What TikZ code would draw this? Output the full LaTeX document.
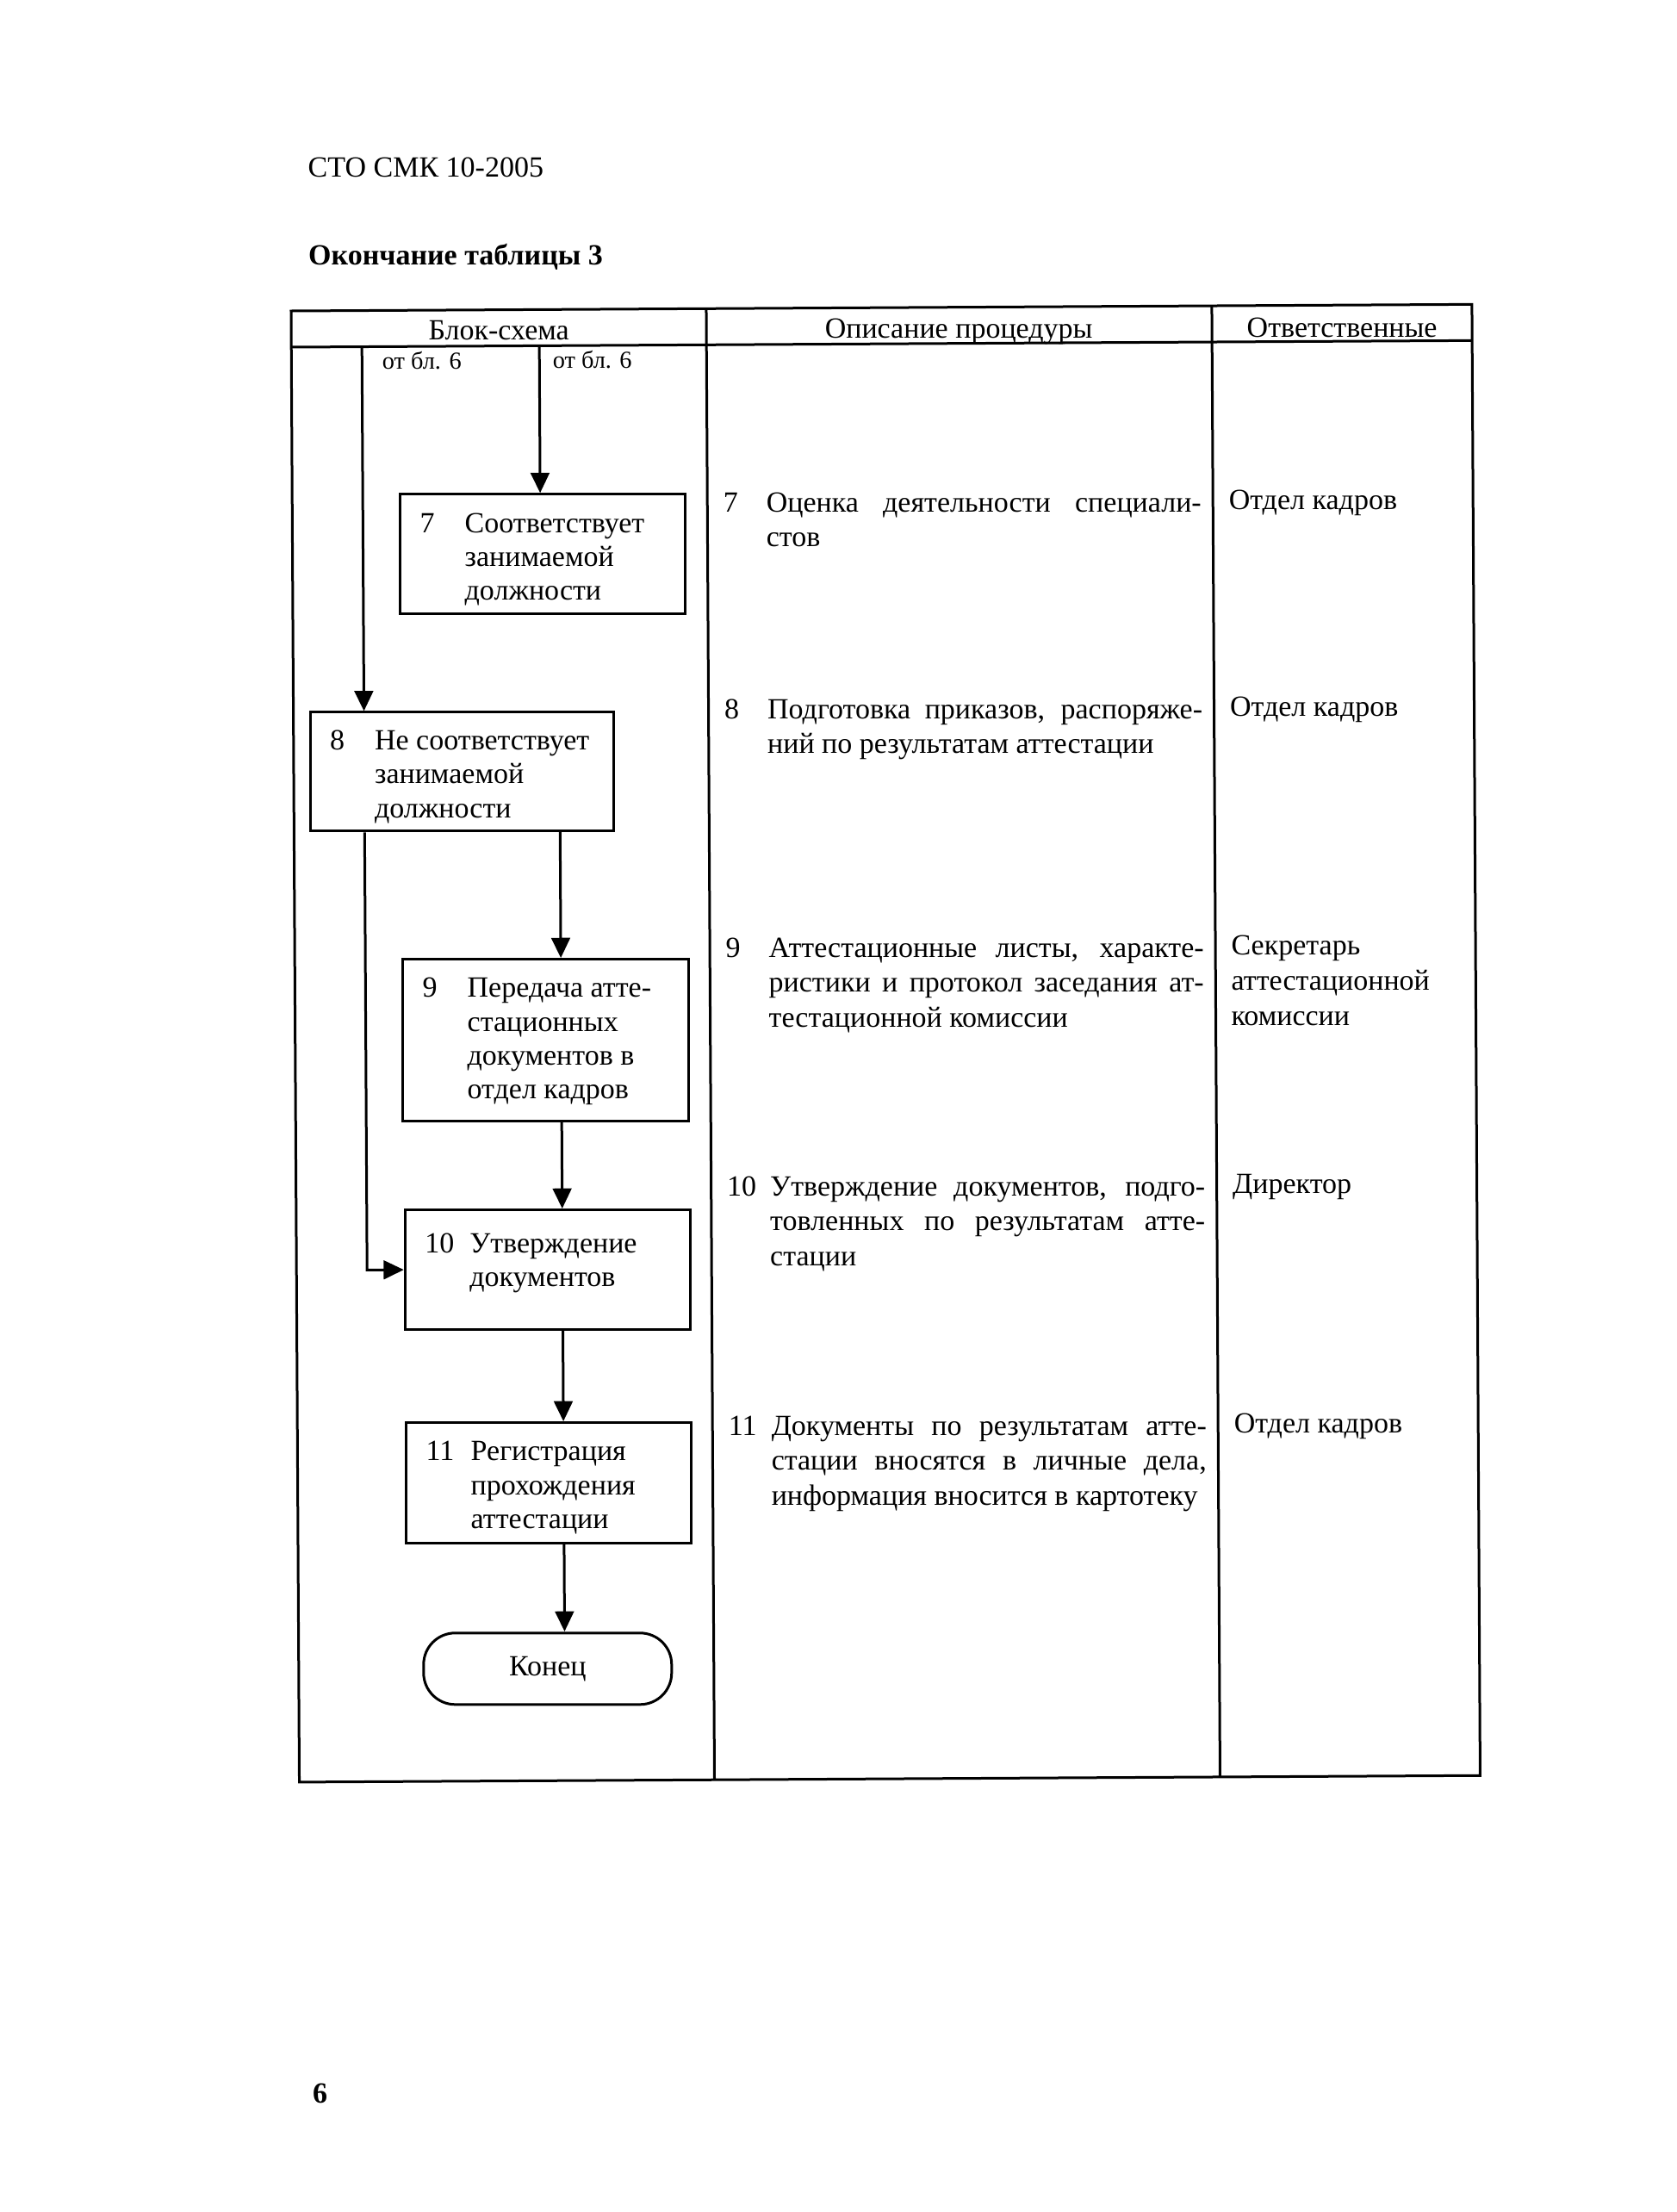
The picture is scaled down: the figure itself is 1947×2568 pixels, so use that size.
\documentclass[tikz,border=0pt]{standalone}
\usepackage{fontspec}
\setmainfont{Liberation Serif}
\usetikzlibrary{arrows.meta}

% box text: [top gap] width, height, number, lines
\newcommand{\blktxt}[5][5pt]{\parbox[c][#3][t]{#2}{\vspace*{#1}\hspace*{6.9pt}\makebox[15.6pt][l]{#4}\begin{tabular}[t]{@{}l@{}}#5\end{tabular}}}
% description text: number, lines
\newcommand{\desctxt}[2]{\makebox[15pt][l]{#1}\parbox[t]{151.5pt}{#2}}
\newcommand{\jline}[1]{\makebox[\linewidth][s]{#1}}

\begin{document}
\begin{tikzpicture}[x=0.3pt,y=-0.3pt,
    >={Triangle[length=7pt,width=6.5pt]},
    line width=0.9pt,
    font=\fontsize{10.2}{11.8}\selectfont,
    blk/.style={draw,anchor=north west,inner sep=0pt},
    term/.style={draw,rounded corners=11pt,minimum width=86.4pt,minimum height=24.9pt,inner sep=0pt},
    desc/.style={anchor=base west,inner sep=0pt,font=\fontsize{10.2}{12.2}\selectfont},
    head/.style={anchor=base,inner sep=0pt},
    txt/.style={anchor=base west,inner sep=0pt},
    from/.style={anchor=base west,inner sep=0pt,font=\fontsize{8.5}{10}\selectfont}]
  \useasboundingbox (0,0) rectangle (1947,2568);
  \begin{scope}[rotate around={0.32:(338,362)}]
  \node[txt] (doc) at (357,206) {СТО СМК 10-2005};
  \node[txt,font=\fontsize{10.2}{12}\selectfont\bfseries] (cap) at (357,308) {Окончание таблицы 3};

  % table
  \draw (338,361) rectangle (1709,2069);
  \draw (338,403) -- (1709,403);
  \draw (820,361) -- (820,2069);
  \draw (1407,361) -- (1407,2069);
  \node[head] (h1) at (579,396) {Блок-схема};
  \node[head] (h2) at (1113,397) {Описание процедуры};
  \node[head] (h3) at (1558,398) {Ответственные};

  % flow chart
  \node[from] (f1) at (442,429) {от бл. 6};
  \node[from] (f2) at (640,429) {от бл. 6};
  \node[blk] (b7) at (462,573) {\blktxt{99.3pt}{41.7pt}{7}{Соответствует\\занимаемой\\должности}};
  \node[blk] (b8) at (356,825) {\blktxt{105.6pt}{41.4pt}{8}{Не соответствует\\занимаемой\\должности}};
  \node[blk] (b9) at (462,1113) {\blktxt{99.6pt}{56.4pt}{9}{Передача атте-\\стационных\\документов в\\отдел кадров}};
  \node[blk] (b10) at (463,1404) {\blktxt[6.6pt]{99.3pt}{41.7pt}{10}{Утверждение\\документов}};
  \node[blk] (b11) at (463,1651) {\blktxt{99.3pt}{42pt}{11}{Регистрация\\прохождения\\аттестации}};
  \node[term] (end) at (627,1939) {Конец};

  \coordinate (src7) at (626,403);
  \coordinate (src8) at (420,403);
  \coordinate (trunk) at (647,0 |- b8.south);
  \draw[->] (src7) -- (src7 |- b7.north);
  \draw[->] (src8) -- (src8 |- b8.north);
  \draw[->] (src8 |- b8.south) |- (b10.west);
  \draw[->] (trunk) -- (trunk |- b9.north);
  \draw[->] (trunk |- b9.south) -- (trunk |- b10.north);
  \draw[->] (trunk |- b10.south) -- (trunk |- b11.north);
  \draw[->] (trunk |- b11.south) -- (trunk |- end.north);

  % descriptions
  \node[desc] (d7) at (837,597) {\desctxt{7}{\jline{Оценка деятельности специали-}\\стов}};
  \node[desc] (d8) at (837,837) {\desctxt{8}{\jline{Подготовка приказов, распоряже-}\\ний по результатам аттестации}};
  \node[desc] (d9) at (837,1114) {\desctxt{9}{\jline{Аттестационные листы, характе-}\\\jline{ристики и протокол заседания ат-}\\тестационной комиссии}};
  \node[desc] (d10) at (837,1391) {\desctxt{10}{\jline{Утверждение документов, подго-}\\\jline{товленных по результатам атте-}\\стации}};
  \node[desc] (d11) at (837,1669) {\desctxt{11}{\jline{Документы по результатам атте-}\\\jline{стации вносятся в личные дела,}\\информация вносится в картотеку}};

  % responsible
  \node[desc] (r7) at (1424,598) {Отдел кадров};
  \node[desc] (r8) at (1424,838) {Отдел кадров};
  \node[desc] (r9) at (1424,1115) {\begin{tabular}[t]{@{}l@{}}Секретарь\\аттестационной\\комиссии\end{tabular}};
  \node[desc] (r10) at (1424,1392) {Директор};
  \node[desc] (r11) at (1424,1670) {Отдел кадров};

  \node[txt,font=\fontsize{10.2}{12}\selectfont\bfseries] (pg) at (350,2442) {6};
  \end{scope}
\end{tikzpicture}
\end{document}
